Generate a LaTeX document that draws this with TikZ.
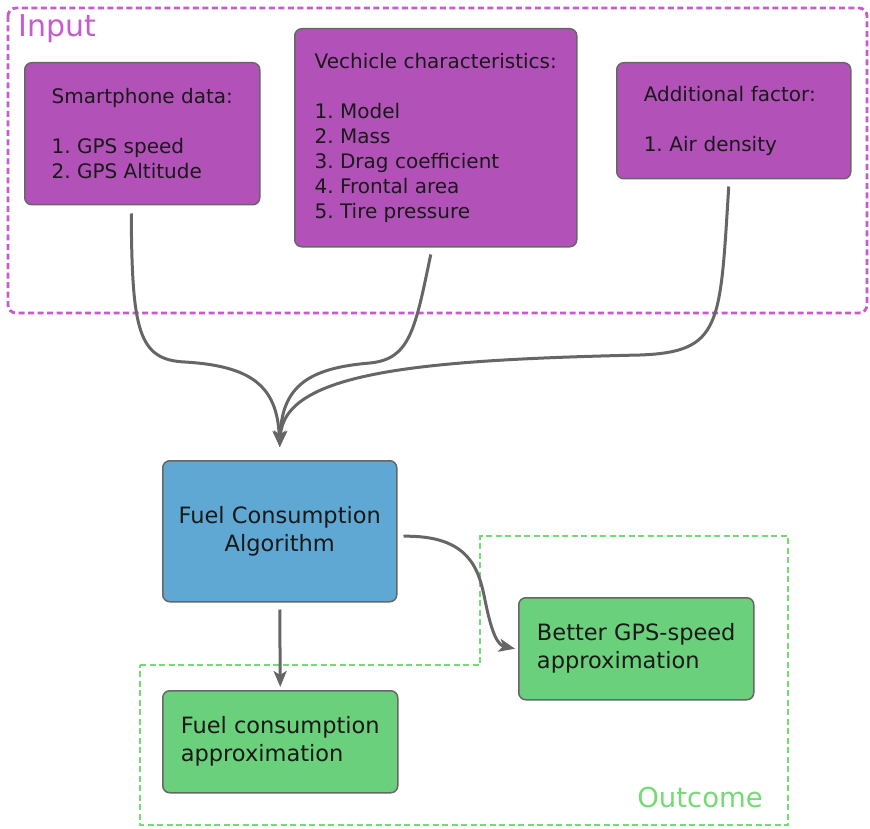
\documentclass[tikz,border=0pt]{standalone}
\usepackage{fontspec}
\setmainfont{DejaVu Sans}
\usetikzlibrary{arrows.meta}
\frenchspacing

\definecolor{inputpurple}{HTML}{B252B9}
\definecolor{inputframe}{HTML}{C65BD0}
\definecolor{algoblue}{HTML}{5FA8D4}
\definecolor{outgreen}{HTML}{6AD07B}
\definecolor{outframe}{HTML}{74DA74}
\definecolor{linkgray}{HTML}{666666}

\tikzset{
  box/.style={draw=black!60, line width=1.5pt, rounded corners=7pt, inner sep=0pt, align=left, anchor=north west, text=black!90},
  inbox/.style={box, fill=inputpurple, font=\fontsize{20}{25}\selectfont},
  outbox/.style={box, fill=outgreen, font=\fontsize{22.5}{28}\selectfont},
  flow/.style={draw=linkgray, line width=3pt, -{Stealth[length=16pt, width=13pt, inset=4pt]}},
  frame/.style={line width=2.8pt, dash pattern=on 6pt off 3.5pt},
}

\begin{document}
\begin{tikzpicture}[x=1pt, y=-1pt]
    \useasboundingbox (0,0) rectangle (870,829);
    % group frames
    \draw [frame, draw=inputframe, rounded corners=8pt] (8,8) rectangle (867,313);
    \draw [frame, draw=outframe] (140,665) -- (480,665) -- (480,536) -- (788,536) -- (788,825) -- (140,825) -- cycle;
    \node [anchor=base west, inner sep=0pt, text=inputframe, font=\fontsize{30}{30}\selectfont] (inlabel) at (18,37) {Input};
    \node [anchor=base east, inner sep=0pt, text=outframe, font=\fontsize{27.5}{28}\selectfont] (outlabel) at (763,807) {Outcome};

    % input boxes
    \node [inbox, minimum width=235pt, minimum height=142pt] (phone) at (24,62) {Smartphone data:\\[25pt]1. GPS speed\\2. GPS Altitude};
    \node [inbox, minimum width=282pt, minimum height=218pt] (vehicle) at (294,28) {Vechicle characteristics:\\[25pt]1. Model\\2. Mass\\3. Drag coefficient\\4. Frontal area\\5. Tire pressure};
    \node [inbox, text width=180pt, inner xsep=27pt, minimum height=116pt] (extra) at (616,62) {Additional factor:\\[25pt]1. Air density};

    % algorithm and results
    \node [box, fill=algoblue, align=center, minimum width=234pt, minimum height=141pt, font=\fontsize{22.5}{28}\selectfont] (algo) at (162,460) {Fuel Consumption\\Algorithm};
    \node [outbox, minimum width=235pt, minimum height=102pt] (fuel) at (162,690) {Fuel consumption\\approximation};
    \node [outbox, minimum width=235pt, minimum height=102pt] (speed) at (518,597) {Better GPS-speed\\approximation};

    \coordinate (merge) at ([yshift=13pt]algo.north);

    % inputs into the algorithm
    \draw [flow] ([xshift=-11pt, yshift=-8pt]phone.south) .. controls (132,330) and (138,360) .. (185,362)
        .. controls (250,366) and (277,385) .. (merge);
    \draw [flow] ([xshift=-5pt, yshift=-7pt]vehicle.south) .. controls (415,330) and (410,359) .. (370,363)
        .. controls (310,368) and (282,385) .. (merge);
    \draw [flow] ([xshift=-5pt, yshift=-7pt]extra.south) .. controls (720,325) and (722,352) .. (640,355)
        .. controls (420,360) and (284,372) .. (merge);

    % outputs
    \draw [flow] ([yshift=-7pt]algo.south) -- ([yshift=3pt]fuel.north);
    \draw [flow] ([xshift=6pt, yshift=-5pt]algo.east) .. controls (470,535) and (479,570) .. (485,600)
        .. controls (492,635) and (498,645) .. ([xshift=-3pt]speed.west);
\end{tikzpicture}
\end{document}
